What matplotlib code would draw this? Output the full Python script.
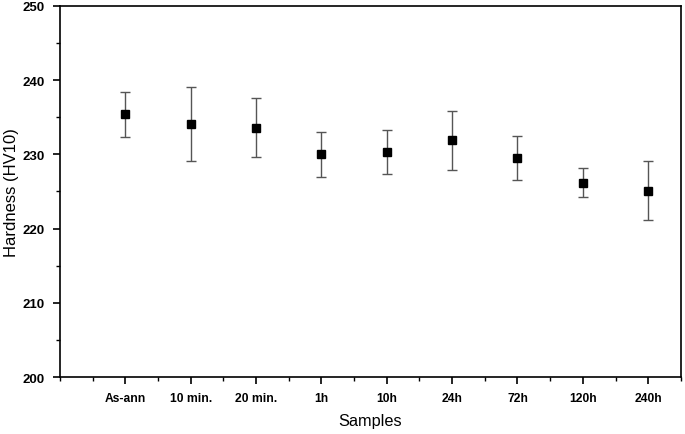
import numpy as np
import matplotlib
matplotlib.use('Agg')
from matplotlib import pyplot as plt
from matplotlib.ticker import MultipleLocator

samples = ['As-ann', '10 min.', '20 min.', '1h', '10h', '24h', '72h', '120h', '240h']
hardness = [235.4, 234.1, 233.6, 230.0, 230.3, 231.9, 229.5, 226.2, 225.1]
error = [3.0, 5.0, 4.0, 3.0, 3.0, 4.0, 3.0, 2.0, 4.0]

plt.rcParams['font.family'] = ['Liberation Sans', 'DejaVu Sans']

fig = plt.figure(figsize=(6.85, 4.35), dpi=100)
ax = fig.add_axes([0.0876, 0.131, 0.9064, 0.853])

x = np.arange(1, len(samples) + 1)
ax.errorbar(x, hardness, yerr=error, fmt='s', color='black', markersize=5.5,
            ecolor='#555555', elinewidth=1.0, capsize=3.5, capthick=1.0)

ax.set_xlim(0, 9.5)
ax.set_ylim(200, 250)
ax.set_xticks(x)
ax.set_xticklabels(samples, fontsize=8.7, fontweight='bold')
ax.xaxis.set_minor_locator(MultipleLocator(0.5))
ax.yaxis.set_major_locator(MultipleLocator(10))
ax.yaxis.set_minor_locator(MultipleLocator(5))
for lab in ax.get_yticklabels():
    lab.set_fontsize(9.5)
    lab.set_fontweight('bold')

ax.tick_params(which='major', direction='out', length=5, width=1.2, pad=6)
ax.tick_params(which='minor', direction='out', length=3, width=1.0)
ax.tick_params(top=False, right=False, which='both')
for s in ax.spines.values():
    s.set_linewidth(1.2)

ax.set_xlabel('Samples', fontsize=11.7)
ax.set_ylabel('Hardness (HV10)', fontsize=12)
ax.xaxis.set_label_coords(0.5, -0.097)
ax.yaxis.set_label_coords(-0.066, 0.5)

plt.savefig('out.png', dpi=100)
